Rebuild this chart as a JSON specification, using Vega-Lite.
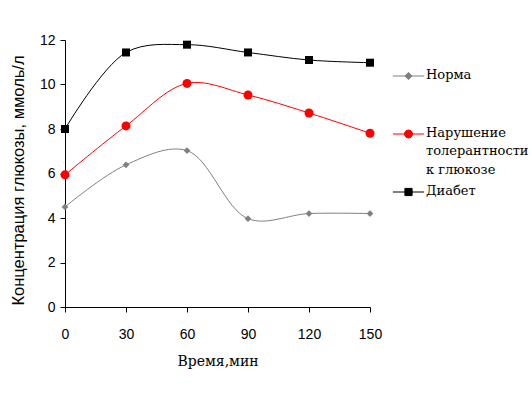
{
  "$schema": "https://vega.github.io/schema/vega-lite/v6.json",
  "width": 305,
  "height": 267,
  "autosize": "none",
  "padding": {"left": 65, "top": 40, "right": 162, "bottom": 92},
  "background": "white",
  "config": {
    "view": {"stroke": null},
    "axis": {
      "grid": false,
      "domainColor": "black",
      "tickColor": "black",
      "labelColor": "black",
      "titleColor": "black",
      "labelFont": "Liberation Sans",
      "labelFontSize": 14,
      "tickSize": 5,
      "titleFontWeight": "normal"
    }
  },
  "data": {
    "values": [
      {"t": 0, "v": 4.5, "g": "Норма"},
      {"t": 30, "v": 6.39, "g": "Норма"},
      {"t": 60, "v": 7.03, "g": "Норма"},
      {"t": 90, "v": 3.97, "g": "Норма"},
      {"t": 120, "v": 4.2, "g": "Норма"},
      {"t": 150, "v": 4.2, "g": "Норма"},
      {"t": 0, "v": 5.94, "g": "Нарушение толерантности к глюкозе"},
      {"t": 30, "v": 8.14, "g": "Нарушение толерантности к глюкозе"},
      {"t": 60, "v": 10.05, "g": "Нарушение толерантности к глюкозе"},
      {"t": 90, "v": 9.53, "g": "Нарушение толерантности к глюкозе"},
      {"t": 120, "v": 8.72, "g": "Нарушение толерантности к глюкозе"},
      {"t": 150, "v": 7.81, "g": "Нарушение толерантности к глюкозе"},
      {"t": 0, "v": 8.0, "g": "Диабет"},
      {"t": 30, "v": 11.44, "g": "Диабет"},
      {"t": 60, "v": 11.79, "g": "Диабет"},
      {"t": 90, "v": 11.44, "g": "Диабет"},
      {"t": 120, "v": 11.1, "g": "Диабет"},
      {"t": 150, "v": 10.98, "g": "Диабет"}
    ]
  },
  "encoding": {
    "x": {
      "field": "t",
      "type": "quantitative",
      "scale": {"domain": [0, 150], "nice": false, "zero": false},
      "axis": {
        "values": [0, 30, 60, 90, 120, 150],
        "title": "Время,мин",
        "titleFont": "DejaVu Serif",
        "titleFontSize": 14,
        "labelPadding": 15,
        "titlePadding": 13,
        "labelFlush": false
      }
    },
    "y": {
      "field": "v",
      "type": "quantitative",
      "scale": {"domain": [0, 12], "nice": false},
      "axis": {
        "values": [0, 2, 4, 6, 8, 10, 12],
        "title": "Концентрация глюкозы,  ммоль/л",
        "titleFont": "Liberation Sans",
        "titleFontSize": 16.5,
        "titleY": 140,
        "labelPadding": 5,
        "titlePadding": 13
      }
    }
  },
  "layer": [
    {
      "mark": {"type": "line", "interpolate": "catmull-rom", "strokeWidth": 1},
      "encoding": {
        "color": {
          "field": "g",
          "type": "nominal",
          "scale": {
            "domain": ["Норма", "Нарушение толерантности к глюкозе", "Диабет"],
            "range": ["#808080", "#ff0000", "#000000"]
          },
          "legend": {
            "orient": "none",
            "legendX": 337,
            "legendY": 29.5,
            "title": null,
            "padding": 0,
            "labelFont": "DejaVu Serif",
            "labelFontSize": 13,
            "labelColor": "black",
            "labelLimit": 300,
            "labelBaseline": "top",
            "labelOffset": 11,
            "rowPadding": 7,
            "symbolSize": 64,
            "labelExpr": "datum.label == 'Нарушение толерантности к глюкозе' ? ['Нарушение', 'толерантности', 'к глюкозе'] : datum.label == 'Норма' ? ['Норма', '', ''] : datum.label",
            "encode": {
              "symbols": {
                "update": {
                  "shape": {"signal": "datum.value == 'Норма' ? 'M-3.9,0H3.9M0,-0.9L0.9,0L0,0.9L-0.9,0Z' : datum.value == 'Диабет' ? 'M-3.9,0H3.9M-0.9,-0.9H0.9V0.9H-0.9Z' : 'M-3.9,0H3.9M-1,0A1,1 0 1,0 1,0A1,1 0 1,0 -1,0Z'"},
                  "fill": {"scale": "color", "field": "value"},
                  "stroke": {"scale": "color", "field": "value"},
                  "strokeWidth": {"value": 1},
                  "opacity": {"value": 1}
                }
              },
              "labels": {
                "update": {"dy": {"value": -7.5}, "lineHeight": {"value": 18.7}}
              }
            }
          }
        }
      }
    },
    {
      "transform": [{"filter": "datum.g == 'Норма'"}],
      "mark": {"type": "point", "filled": true, "opacity": 1, "shape": "diamond", "size": 45, "color": "#808080"}
    },
    {
      "transform": [{"filter": "datum.g == 'Нарушение толерантности к глюкозе'"}],
      "mark": {"type": "point", "filled": true, "opacity": 1, "shape": "circle", "size": 81, "color": "#ff0000"}
    },
    {
      "transform": [{"filter": "datum.g == 'Диабет'"}],
      "mark": {"type": "point", "filled": true, "opacity": 1, "shape": "square", "size": 64, "color": "#000000"}
    }
  ]
}
